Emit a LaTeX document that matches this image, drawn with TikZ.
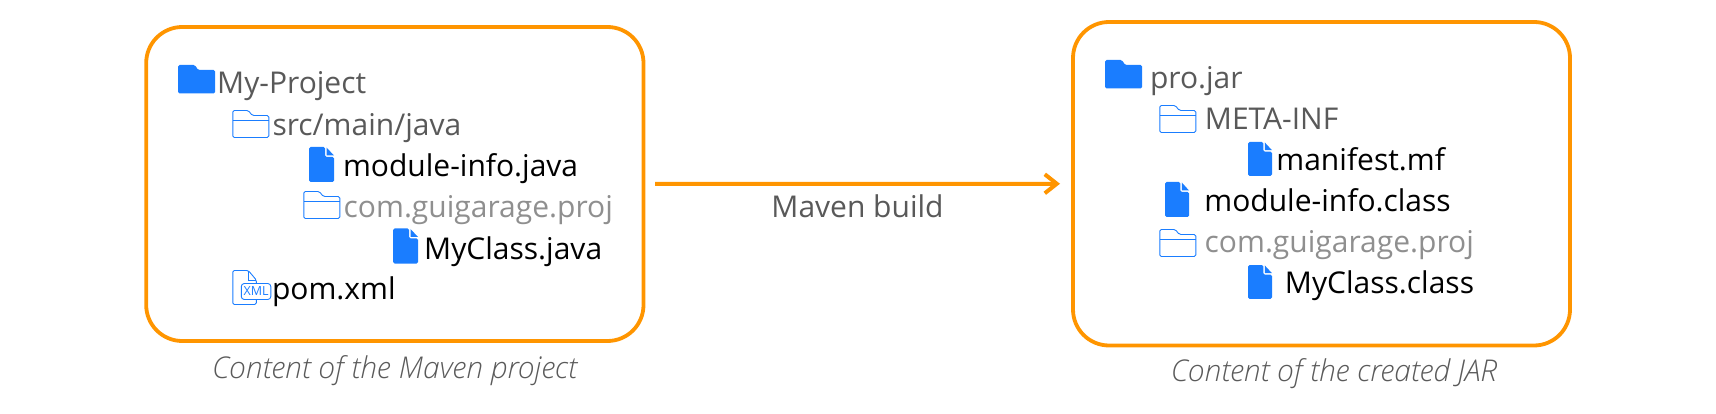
\documentclass[tikz,border=0pt]{standalone}
\usepackage{fontspec}
\setmainfont{Open Sans}
\newfontfamily\capfont{Open Sans Light Italic}
\newfontfamily\tagfont{Open Sans}
\usepackage{tikz}
\usetikzlibrary{arrows.meta}
\definecolor{iconblue}{HTML}{1A7DFF}
\definecolor{boxorange}{HTML}{FF9500}
\definecolor{darktext}{HTML}{595959}
\definecolor{paletext}{HTML}{8F8F8F}
\definecolor{captext}{HTML}{5A5A5A}
\tikzset{
    item/.style={anchor=base west, inner sep=0pt, font=\fontsize{30}{34}\selectfont},
    dark/.style={item, text=darktext},
    pale/.style={item, text=paletext},
    plain/.style={item, text=black},
    caption/.style={anchor=base west, inner sep=0pt, text=captext, font=\fontsize{30}{34}\capfont},
    bigbox/.style={draw=boxorange, line width=3.8pt, rounded corners=36pt, inner sep=0pt, outer sep=0pt, anchor=north west},
    folderfull/.pic={
        \fill[iconblue, rounded corners=1.5pt] (0,28.5) -- (0,0) -- (17,0) -- (20,5) -- (37,5) -- (37,28.5) -- cycle;
    },
    folderopen/.pic={
        \draw[iconblue, line width=0.9pt, rounded corners=1.5pt] (0.5,27.5) -- (0.5,0.5) -- (16,0.5) -- (20,5.5) -- (36.5,5.5) -- (36.5,27.5) -- cycle;
        \draw[iconblue, line width=0.9pt] (0.5,10.5) -- (36.5,10.5);
    },
    filefull/.pic={
        \fill[iconblue, rounded corners=1.5pt] (0,35) -- (0,0) -- (16,0) -- (16,10) -- (25,10) -- (25,35) -- cycle;
        \fill[iconblue] (17.5,0.5) -- (25,8.5) -- (17.5,8.5) -- cycle;
    },
    filexml/.pic={
        \draw[iconblue, line width=0.9pt, rounded corners=1.5pt] (0.5,34.5) -- (0.5,0.5) -- (16,0.5) -- (24,10) -- (24,34.5) -- cycle;
        \draw[iconblue, line width=0.9pt] (16,0.5) -- (16,10) -- (24,10);
        \draw[iconblue, fill=white, line width=0.9pt, rounded corners=3pt] (9,13.5) rectangle (38.5,29.5);
        \node[iconblue, inner sep=0pt, font=\fontsize{12.5}{13}\tagfont] (xmltag) at (23.75,21.5) {XML};
    },
}

\begin{document}
\begin{tikzpicture}[x=1pt, y=-1pt]
    \useasboundingbox (0,0) rectangle (1716,414);

    % left box
    \node[bigbox, minimum width=497.3pt, minimum height=314pt] (project) at (146.2,27) {};
    \pic at (178,65) {folderfull};
    \pic at (232.3,110) {folderopen};
    \pic at (309,147) {filefull};
    \pic at (303.3,191) {folderopen};
    \pic at (393,228.5) {filefull};
    \pic at (232.3,270) {filexml};
    \node[dark] (myproject) at (217,93.7) {My-Project};
    \node[dark] (srcmain) at (272.3,136) {src/main/java};
    \node[plain] (moduleinfo) at (342.8,177) {module-info.java};
    \node[pale] (guigarage) at (343.5,217.7) {com.guigarage.proj};
    \node[plain] (myclass) at (424,259) {MyClass.java};
    \node[plain] (pom) at (271.8,299) {pom.xml};
    \node[caption] (projectcap) at (212,378) {Content of the Maven project};

    % right box
    \node[bigbox, minimum width=497pt, minimum height=323.5pt] (jar) at (1073,22) {};
    \pic at (1105,60) {folderfull};
    \pic at (1159.3,105) {folderopen};
    \pic[xscale=.96, yscale=.97] at (1248,142) {filefull};
    \pic[xscale=.96] at (1165,182) {filefull};
    \pic at (1159.3,229) {folderopen};
    \pic[xscale=.96, yscale=.97] at (1248,265) {filefull};
    \node[dark] (projar) at (1149.8,88.3) {pro.jar};
    \node[dark] (metainf) at (1204.7,129.3) {META-INF};
    \node[plain] (manifest) at (1276.2,171) {manifest.mf};
    \node[plain] (moduleclass) at (1204.2,211.7) {module-info.class};
    \node[pale] (guigaragejar) at (1204.5,252.7) {com.guigarage.proj};
    \node[plain] (myclassjar) at (1284.7,293.3) {MyClass.class};
    \node[caption] (jarcap) at (1170.7,381.7) {Content of the created JAR};

    % build arrow
    \draw[draw=boxorange, line width=4pt, shorten <=11.5pt, shorten >=13pt, -{Straight Barb[length=12pt, width=19pt]}] (project.east) -- (jar.west);
    \node[dark, anchor=base] (build) at (857.5,217.7) {Maven build};
\end{tikzpicture}
\end{document}
